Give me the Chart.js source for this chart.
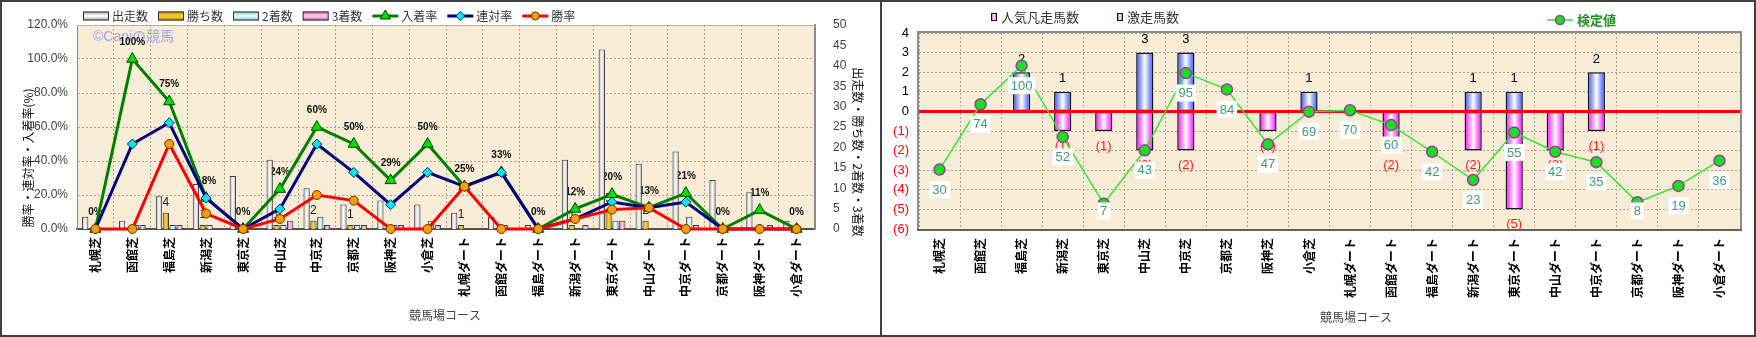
<!DOCTYPE html>
<html lang="ja">
<head>
<meta charset="UTF-8">
<title>競馬場コース別成績</title>
<script src="https://cdn.jsdelivr.net/npm/chart.js@4.4.0/dist/chart.umd.min.js"></script>
<style>
  html, body { margin: 0; padding: 0; background: #fff; }
  body { width: 1756px; height: 337px; position: relative; overflow: hidden; }
  .panel { position: absolute; top: 0; height: 337px; box-sizing: border-box; border: 2px solid #404040; background: #fff; }
  #left { left: 0; width: 882px; }
  #right { left: 880px; width: 876px; }
  .panel canvas { display: block; }
</style>
</head>
<body>
<div class="panel" id="left"><canvas id="courseChart" width="878" height="333"></canvas></div>
<div class="panel" id="right"><canvas id="upsetChart" width="872" height="333"></canvas></div>

<script>
  const courses = ['札幌芝', '函館芝', '福島芝', '新潟芝', '東京芝', '中山芝', '中京芝', '京都芝', '阪神芝', '小倉芝',
    '札幌ダート', '函館ダート', '福島ダート', '新潟ダート', '東京ダート', '中山ダート', '中京ダート', '京都ダート', '阪神ダート', '小倉ダート'];

  // 件数（右軸）
  const starts  = [3, 2, 8, 11, 13, 17, 10, 6, 7, 6, 4, 3, 1, 17, 44, 16, 19, 12, 9, 2];
  const wins    = [0, 0, 4, 1, 0, 1, 2, 1, 0, 0, 1, 0, 0, 1, 5, 2, 0, 0, 0, 0];
  const seconds = [0, 1, 1, 1, 0, 1, 3, 1, 1, 2, 0, 1, 0, 0, 2, 0, 3, 0, 0, 0];
  const thirds  = [0, 1, 1, 0, 0, 2, 1, 1, 1, 1, 0, 0, 0, 1, 2, 0, 1, 0, 1, 0];

  // 率（左軸, %）
  const placeRate  = [0, 100, 75, 18.2, 0, 23.5, 60, 50, 28.6, 50, 25, 33.3, 0, 11.8, 20.45, 12.5, 21.1, 0, 11.1, 0];
  const rentaiRate = [0, 50, 62.5, 18.2, 0, 11.8, 50, 33.3, 14.3, 33.3, 25, 33.3, 0, 5.9, 15.9, 12.5, 15.8, 0, 0, 0];
  const winRate    = [0, 0, 50, 9.1, 0, 5.9, 20, 16.7, 0, 0, 25, 0, 0, 5.9, 11.4, 12.5, 0, 0, 0, 0];

  // 人気凡走・激走・検定値
  const flopCounts  = [0, 0, 0, -1, -1, -2, -2, 0, -1, 0, 0, -2, 0, -2, -5, -2, -1, 0, 0, 0];
  const upsetCounts = [0, 0, 2, 1, 0, 3, 3, 0, 0, 1, 0, 0, 0, 1, 1, 0, 2, 0, 0, 0];
  const testValues  = [30, 74, 100, 52, 7, 43, 95, 84, 47, 69, 70, 60, 42, 23, 55, 42, 35, 8, 19, 36];

  const JP = '"Noto Sans CJK JP", sans-serif';
  const NUM = '"Liberation Sans", Arial, sans-serif';
  const PLOT_BG = '#f7ecd5';
  const GRID = '#aaa398';

  // 棒を左右方向のグラデーションで塗る
  function barFill(edge, mid, slot, slots, catPct, barPct) {
    return function (c) {
      const chart = c.chart, xs = chart.scales.x;
      if (c.type !== 'data' || !chart.chartArea || !xs) return mid;
      const cw = (xs.right - xs.left) / courses.length;
      const group = cw * catPct, slotW = group / slots, w = slotW * barPct;
      const cx = xs.getPixelForValue(c.dataIndex) - group / 2 + slotW * (slot + 0.5);
      const g = chart.ctx.createLinearGradient(cx - w / 2, 0, cx + w / 2, 0);
      g.addColorStop(0, edge);
      g.addColorStop(0.5, mid);
      g.addColorStop(1, edge);
      return g;
    };
  }

  function marker(ctx, style, x, y, r, fill, stroke, lw) {
    ctx.save();
    ctx.beginPath();
    if (style === 'triangle') {
      ctx.moveTo(x, y - r);
      ctx.lineTo(x + r * 0.87, y + r * 0.5);
      ctx.lineTo(x - r * 0.87, y + r * 0.5);
      ctx.closePath();
    } else if (style === 'rectRot') {
      ctx.moveTo(x, y - r); ctx.lineTo(x + r, y); ctx.lineTo(x, y + r); ctx.lineTo(x - r, y);
      ctx.closePath();
    } else {
      ctx.arc(x, y, r, 0, Math.PI * 2);
    }
    ctx.fillStyle = fill;
    ctx.fill();
    ctx.lineWidth = lw;
    ctx.strokeStyle = stroke;
    ctx.stroke();
    ctx.restore();
  }

  function text(ctx, str, x, y, font, color, align, angle) {
    ctx.save();
    ctx.translate(x, y);
    if (angle) ctx.rotate(angle);
    ctx.font = font;
    ctx.fillStyle = color;
    ctx.textAlign = align || 'center';
    ctx.textBaseline = 'middle';
    ctx.fillText(str, 0, 0);
    ctx.restore();
  }

  function fillPlot(chart) {
    const { ctx, chartArea: a } = chart;
    ctx.save();
    ctx.fillStyle = PLOT_BG;
    ctx.fillRect(a.left, a.top, a.right - a.left, a.bottom - a.top);
    ctx.restore();
  }

  // ---------- 左: 出走数・着数と各率 ----------
  const CAT_PCT = 0.74, BAR_PCT = 0.92;

  function barSet(label, data, slot, order, edge, mid) {
    return {
      type: 'bar', label, data, yAxisID: 'y2', order,
      backgroundColor: barFill(edge, mid, slot, 4, CAT_PCT, BAR_PCT),
      borderColor: '#3a3a3a', borderWidth: 1,
      categoryPercentage: CAT_PCT, barPercentage: BAR_PCT,
      edge, mid
    };
  }

  function lineSet(label, data, order, color, style, radius, fill, stroke) {
    return {
      type: 'line', label, data, yAxisID: 'y', order,
      borderColor: color, borderWidth: 3, tension: 0, fill: false, clip: false,
      pointStyle: style, pointRadius: radius, pointBackgroundColor: fill,
      pointBorderColor: stroke, pointBorderWidth: 1
    };
  }

  const courseDecor = {
    id: 'courseDecor',
    beforeDraw(chart) { fillPlot(chart); },
    beforeDatasetsDraw(chart) {
      const { ctx, chartArea: a, scales } = chart;
      ctx.save();
      ctx.strokeStyle = '#b4b0a8';
      ctx.lineWidth = 1;
      ctx.beginPath();
      ctx.moveTo(a.left, a.top + 0.5);
      ctx.lineTo(a.right, a.top + 0.5);
      ctx.stroke();
      ctx.restore();

      text(ctx, '©Caniの競馬', a.left + 16, a.top + 12, '14px ' + NUM + ', ' + JP, '#a4a4f4', 'left');

      // 入着率ラベル（棒の下に描く）
      placeRate.forEach((v, i) => {
        const x = scales.x.getPixelForValue(i);
        const y = scales.y.getPixelForValue(v) - 17;
        text(ctx, Math.round(v) + '%', x, y, 'bold 10px ' + NUM, '#111');
      });

      // 勝ち数ラベル
      const winMeta = chart.getDatasetMeta(1);
      wins.forEach((v, i) => {
        if (!v) return;
        const el = winMeta.data[i];
        text(ctx, String(v), el.x, el.y - 10, '12px ' + NUM, '#222');
      });
    },
    afterDraw(chart) {
      const { ctx } = chart;
      // 凡例
      let x = 81;
      const y = 14;
      chart.data.datasets.forEach(ds => {
        if (ds.type === 'bar') {
          const g = ctx.createLinearGradient(0, y - 4.5, 0, y + 4.5);
          g.addColorStop(0, ds.edge); g.addColorStop(0.5, ds.mid); g.addColorStop(1, ds.edge);
          ctx.save();
          ctx.fillStyle = g;
          ctx.fillRect(x, y - 4.5, 26, 9);
          ctx.strokeStyle = '#333';
          ctx.lineWidth = 1;
          ctx.strokeRect(x + 0.5, y - 4, 25, 8);
          ctx.restore();
        } else {
          ctx.save();
          ctx.strokeStyle = ds.borderColor;
          ctx.lineWidth = 3;
          ctx.beginPath();
          ctx.moveTo(x, y); ctx.lineTo(x + 26, y);
          ctx.stroke();
          ctx.restore();
          marker(ctx, ds.pointStyle, x + 13, y, ds.pointRadius - 0.5, ds.pointBackgroundColor, ds.pointBorderColor, 1);
        }
        x += 29;
        ctx.font = '12px ' + JP;
        text(ctx, ds.label, x, y, '12px ' + JP, '#333', 'left');
        x += ctx.measureText(ds.label).width + 10;
      });

      // 軸タイトル
      text(ctx, '勝率・連対率・入着率(%)', 26, 156, '12px ' + JP, '#111', 'center', -Math.PI / 2);
      text(ctx, '出走数・勝ち数・2着数・3着数', 856, 150, '12px ' + JP, '#111', 'center', Math.PI / 2);
      text(ctx, '競馬場コース', 443, 313, '12px ' + JP, '#444');
    }
  };

  new Chart(document.getElementById('courseChart'), {
    type: 'bar',
    data: {
      labels: courses,
      datasets: [
        barSet('出走数', starts, 0, 3, '#a8a8a8', '#ffffff'),
        barSet('勝ち数', wins, 1, 4, '#b88800', '#ffd23a'),
        barSet('2着数', seconds, 2, 5, '#7cc2c2', '#ecffff'),
        barSet('3着数', thirds, 3, 6, '#cc62aa', '#ffd2ee'),
        lineSet('入着率', placeRate, 2, '#008000', 'triangle', 6.5, '#00e000', '#004400'),
        lineSet('連対率', rentaiRate, 1, '#000080', 'rectRot', 5, '#00e8f0', '#003060'),
        lineSet('勝率', winRate, 0, '#ff0000', 'circle', 4.5, '#f5a000', '#6a3000')
      ]
    },
    options: {
      responsive: false,
      animation: false,
      layout: { padding: { top: 23, left: 0, right: 0, bottom: 0 } },
      plugins: { legend: { display: false }, tooltip: { enabled: false } },
      scales: {
        x: {
          offset: true,
          grid: { offset: true, color: GRID, drawTicks: false },
          border: { color: '#505050', width: 2, dash: [2, 2] },
          ticks: { autoSkip: false, maxRotation: 90, minRotation: 90, padding: 8, color: '#000',
                   font: { family: JP, size: 12, weight: 'bold' } },
          afterFit(s) { s.height = 106; }
        },
        y: {
          position: 'left', min: 0, max: 120,
          ticks: { stepSize: 20, padding: 9, color: '#404040', font: { family: NUM, size: 12 },
                   callback: v => v.toFixed(1) + '%' },
          grid: { color: GRID, drawTicks: false },
          border: { color: '#8c8c8c', width: 1, dash: [2, 2] },
          afterFit(s) { s.width = 75; }
        },
        y2: {
          position: 'right', min: 0, max: 50,
          ticks: { stepSize: 5, padding: 10, color: '#404040', font: { family: NUM, size: 12 } },
          grid: { display: false },
          border: { color: '#8c8c8c', width: 2 },
          afterFit(s) { s.width = 65; }
        }
      }
    },
    plugins: [courseDecor]
  });

  // ---------- 右: 人気凡走馬数・激走馬数と検定値 ----------
  const R_BAR_PCT = 0.42;

  const upsetDecor = {
    id: 'upsetDecor',
    beforeDraw(chart) { fillPlot(chart); },
    beforeDatasetsDraw(chart) {
      const { ctx, chartArea: a } = chart;
      ctx.save();
      ctx.strokeStyle = '#8c8c8c';
      ctx.lineWidth = 2;
      ctx.strokeRect(a.left - 1, a.top - 1, a.right - a.left + 2, a.bottom - a.top + 2);
      ctx.strokeStyle = '#606060';
      ctx.beginPath();
      ctx.moveTo(a.left - 2, a.bottom + 1); ctx.lineTo(a.right + 2, a.bottom + 1);
      ctx.stroke();
      ctx.restore();
    },
    beforeDatasetDraw(chart, args) {
      if (args.meta.type !== 'line') return;
      const { ctx, chartArea: a, scales } = chart;
      const y0 = scales.y.getPixelForValue(0);
      ctx.save();
      ctx.strokeStyle = '#ff0000';
      ctx.lineWidth = 3;
      ctx.beginPath();
      ctx.moveTo(a.left, y0); ctx.lineTo(a.right, y0);
      ctx.stroke();
      ctx.restore();

      const flopMeta = chart.getDatasetMeta(0), upMeta = chart.getDatasetMeta(1);
      upsetCounts.forEach((v, i) => {
        if (!v) return;
        const el = upMeta.data[i];
        text(ctx, String(v), el.x, el.y - 13, '13px ' + NUM, '#000');
      });
      flopCounts.forEach((v, i) => {
        if (!v) return;
        const el = flopMeta.data[i];
        text(ctx, '(' + (-v) + ')', el.x, el.y + 15, '13px ' + NUM, '#ff1a1a');
      });
    },
    afterDatasetsDraw(chart) {
      const { ctx, chartArea: a } = chart;
      const meta = chart.getDatasetMeta(2);
      ctx.save();
      ctx.font = '13px ' + NUM;
      testValues.forEach((v, i) => {
        const p = meta.data[i];
        const s = String(v);
        const w = ctx.measureText(s).width + 6;
        const cy = Math.min(p.y + 20, a.bottom - 18);
        ctx.fillStyle = '#ffffff';
        ctx.fillRect(p.x - w / 2, cy - 8.5, w, 17);
        text(ctx, s, p.x, cy + 0.5, '13px ' + NUM, '#3c9c76');
      });
      ctx.restore();
    },
    afterDraw(chart) {
      const { ctx } = chart;
      const ds = chart.data.datasets;
      // 凡例
      [[109, ds[0]], [235, ds[1]]].forEach(([x, d]) => {
        const g = ctx.createLinearGradient(x, 0, x + 6, 0);
        g.addColorStop(0, d.edge); g.addColorStop(0.5, '#ffffff'); g.addColorStop(1, d.edge);
        ctx.save();
        ctx.fillStyle = g;
        ctx.fillRect(x, 11, 6, 8);
        ctx.strokeStyle = '#111';
        ctx.lineWidth = 1;
        ctx.strokeRect(x + 0.5, 11.5, 5, 7);
        ctx.restore();
        text(ctx, d.label, x + 10, 15, '13px ' + JP, '#333', 'left');
      });
      const line = ds[2];
      ctx.save();
      ctx.strokeStyle = line.borderColor;
      ctx.lineWidth = 1.5;
      ctx.beginPath();
      ctx.moveTo(665, 18); ctx.lineTo(691, 18);
      ctx.stroke();
      ctx.restore();
      marker(ctx, 'circle', 678, 18, 4.5, line.pointBackgroundColor, line.pointBorderColor, 1.5);
      text(ctx, line.label, 695, 18, 'bold 13px ' + JP, '#1f8f1f', 'left');

      text(ctx, '競馬場コース', 474, 315, '12px ' + JP, '#444');
    }
  };

  new Chart(document.getElementById('upsetChart'), {
    type: 'bar',
    data: {
      labels: courses,
      datasets: [
        {
          type: 'bar', label: '人気凡走馬数', data: flopCounts, order: 2, stack: 'n',
          backgroundColor: barFill('#ff00ff', '#ffffff', 0, 1, 1, R_BAR_PCT),
          borderColor: '#1a1a1a', borderWidth: 1.5, borderSkipped: false,
          categoryPercentage: 1, barPercentage: R_BAR_PCT, edge: '#ff00ff'
        },
        {
          type: 'bar', label: '激走馬数', data: upsetCounts, order: 1, stack: 'n',
          backgroundColor: barFill('#2d4dff', '#ffffff', 0, 1, 1, R_BAR_PCT),
          borderColor: '#1a1a1a', borderWidth: 1.5, borderSkipped: false,
          categoryPercentage: 1, barPercentage: R_BAR_PCT, edge: '#2d4dff'
        },
        {
          type: 'line', label: '検定値', data: testValues, yAxisID: 'y2', order: 0,
          borderColor: '#33e633', borderWidth: 1.5, tension: 0, fill: false, clip: false,
          pointRadius: 5.5, pointBackgroundColor: '#19e019', pointBorderColor: '#9a3aa8', pointBorderWidth: 1.5
        }
      ]
    },
    options: {
      responsive: false,
      animation: false,
      layout: { padding: { top: 31, left: 0, right: 14, bottom: 0 } },
      plugins: { legend: { display: false }, tooltip: { enabled: false } },
      scales: {
        x: {
          stacked: true, offset: true,
          grid: { offset: true, color: GRID, drawTicks: false },
          border: { display: false, dash: [2, 2] },
          ticks: { autoSkip: false, maxRotation: 90, minRotation: 90, padding: 9, color: '#000',
                   font: { family: JP, size: 12, weight: 'bold' } },
          afterFit(s) { s.height = 106; }
        },
        y: {
          stacked: true, min: -6, max: 4,
          ticks: { stepSize: 1, padding: 10, font: { family: NUM, size: 13 },
                   color: c => (c.tick && c.tick.value < 0) ? '#ff0000' : '#000',
                   callback: v => v < 0 ? '(' + (-v) + ')' : String(v) },
          grid: { color: GRID, drawTicks: false },
          border: { display: false, dash: [2, 2] },
          afterFit(s) { s.width = 37; }
        },
        y2: { display: false, min: -10, max: 122 }
      }
    },
    plugins: [upsetDecor]
  });
</script>
</body>
</html>
